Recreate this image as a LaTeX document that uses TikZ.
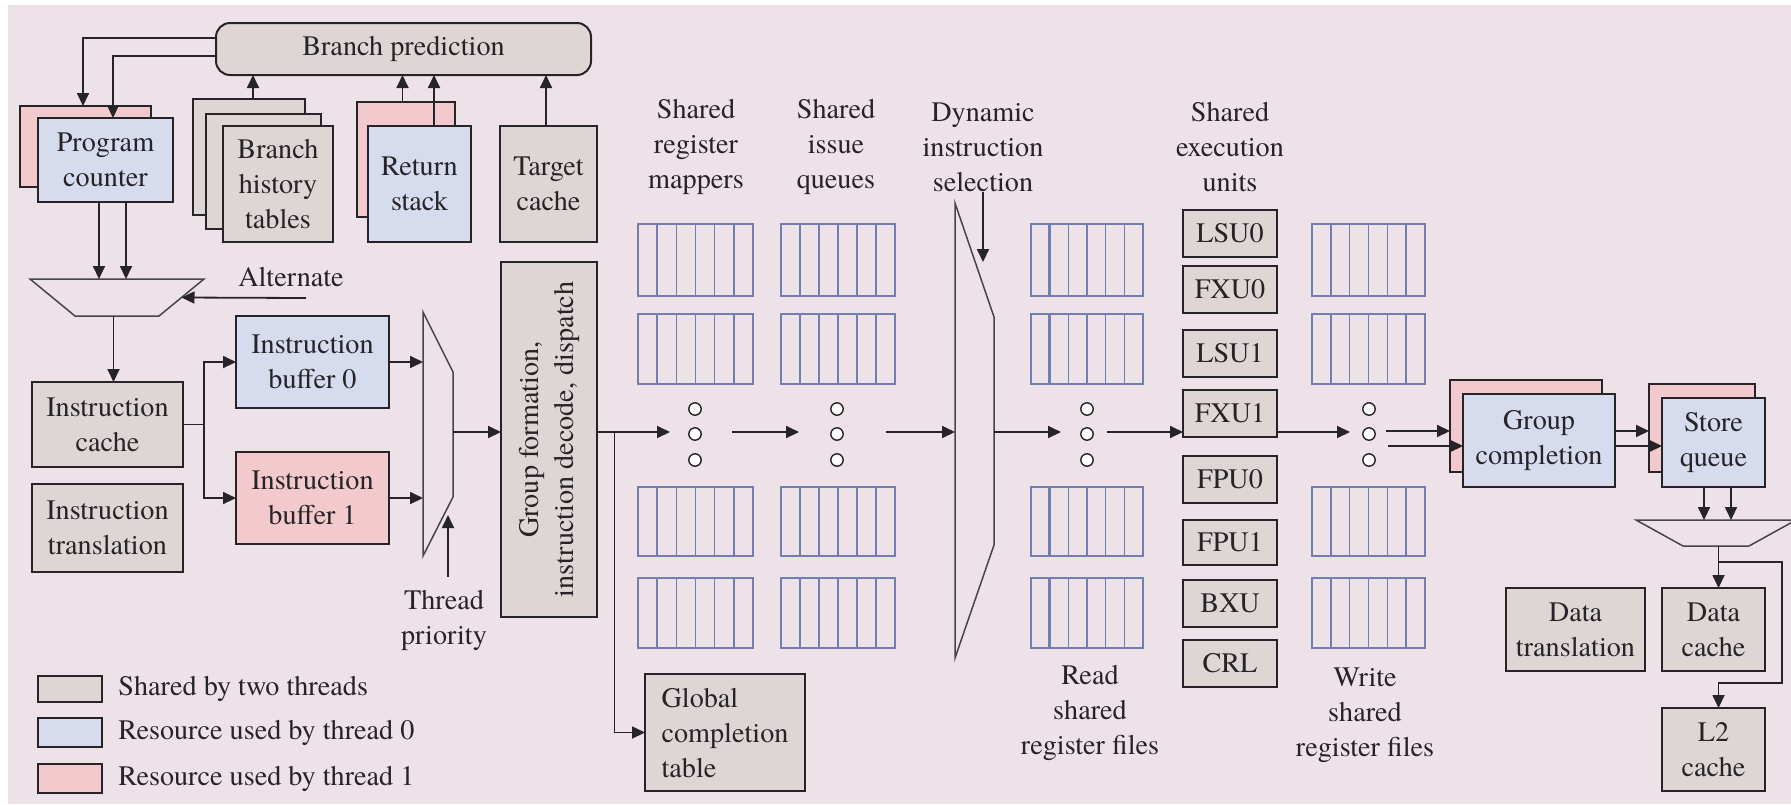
\documentclass[tikz,border=0pt]{standalone}
\usepackage{fontspec}
\setmainfont{TeX Gyre Termes}
\usetikzlibrary{arrows.meta,calc}

\definecolor{bgc}{RGB}{237,226,232}
\definecolor{shared}{RGB}{222,214,212}
\definecolor{thrA}{RGB}{215,219,238}
\definecolor{thrB}{RGB}{242,202,205}
\definecolor{gridc}{RGB}{112,126,178}
\definecolor{ink}{RGB}{38,36,40}

% box from corner (#3,#4) to corner (#5,#6), in pixel units
\newcommand\mkbox[7]{\node[#1,minimum width={(#5-#3)*0.5pt},minimum height={(#6-#4)*0.5pt}] (#2) at ({(#3+#5)/2},{(#4+#6)/2}) {#7};}
% register file drawn as six cells
\newcommand\regfile[4]{%
  \draw[regf] (#1,#2) rectangle (#3,#4);
  \foreach \k in {1,...,5} \draw[regf] ({#1+\k*(#3-#1)/6},#2) -- ({#1+\k*(#3-#1)/6},#4);}

\tikzset{
  box/.style={draw=ink, line width=1pt, inner sep=0pt, outer sep=0pt, align=center, text=ink},
  sh/.style={box, fill=shared},
  tz/.style={box, fill=thrA},
  to/.style={box, fill=thrB},
  arr/.style={draw=ink, line width=0.9pt, -{Triangle[length=6.5pt,width=6pt]}},
  wire/.style={draw=ink, line width=0.9pt},
  lbl/.style={align=center, text=ink, inner sep=0pt},
  muxs/.style={draw=ink!85, line width=0.75pt},
  regf/.style={draw=gridc, line width=0.75pt},
  dot/.style={draw=ink, fill=white, line width=0.7pt},
}

\begin{document}
\begin{tikzpicture}[x=0.5pt, y=-0.5pt, font=\fontsize{14.1}{17.5}\selectfont]
\useasboundingbox (0,0) rectangle (1791,804);
\fill[white] (0,0) rectangle (1791,804);
\fill[bgc] (8,5) rectangle (1791,804);

% ---------- fetch and branch prediction ----------
\mkbox{sh,rounded corners=7pt}{bp}{216}{23}{591}{75}{Branch prediction}
\mkbox{to}{pcb}{20}{106}{151}{187}{}
\mkbox{tz}{pcf}{38}{118}{173}{202}{Program\\counter}
\mkbox{sh}{bht3}{193}{99}{305}{215}{}
\mkbox{sh}{bht2}{206}{114}{321}{229}{}
\mkbox{sh}{bht1}{223}{126}{333}{242}{Branch\\history\\tables}
\mkbox{to}{rsb}{357}{102}{455}{217}{}
\mkbox{tz}{rsf}{368}{126}{471}{242}{Return\\stack}
\mkbox{sh}{tc}{500}{126}{597}{242}{Target\\cache}

\draw[arr] ([yshift=5.5pt]bp.west) -| ([xshift=-1.25pt]pcb.north);
\draw[arr] ([yshift=-3.5pt]bp.west) -| ([xshift=3.75pt]pcf.north);
\draw[arr] ([xshift=2pt]bht3.north) -- ([xshift=2pt]bht3.north |- bp.south);
\draw[arr] ([xshift=-1.75pt]rsb.north) -- ([xshift=-1.75pt]rsb.north |- bp.south);
\draw[arr] ([xshift=7.25pt]rsf.north) -- ([xshift=7.25pt]rsf.north |- bp.south);
\draw[arr] ([xshift=-1.25pt]tc.north) -- ([xshift=-1.25pt]tc.north |- bp.south);

% fetch selector
\coordinate (m1tl) at (30,279);
\coordinate (m1tr) at (204,279);
\coordinate (m1br) at (159,316);
\coordinate (m1bl) at (75,316);
\draw[muxs] (m1tl) -- (m1tr) -- (m1br) -- (m1bl) -- cycle;
\draw[arr] ([xshift=-3.25pt]pcf.south) -- ([xshift=-3.25pt]pcf.south |- m1tl);
\draw[arr] ([xshift=10.25pt]pcf.south) -- ([xshift=10.25pt]pcf.south |- m1tl);
\node[lbl] (alt) at (291,277) {Alternate};
\coordinate (altin) at (306,298);
\draw[arr] (altin) -- ($(m1tr)!0.5!(m1br)$);

\mkbox{sh}{ic}{32}{382}{183}{467}{Instruction\\cache}
\mkbox{sh}{it}{32}{484}{183}{572}{Instruction\\translation}
\draw[arr] ([xshift=3pt]ic.north |- m1bl) -- ([xshift=3pt]ic.north);

\mkbox{tz}{ib0}{236}{316}{389}{408}{Instruction\\buffer 0}
\mkbox{to}{ib1}{236}{452}{389}{544}{Instruction\\buffer 1}
\draw[arr] (ic.east) -- ++(21,0) |- (ib0.west);
\draw[arr] (ic.east) -- ++(21,0) |- (ib1.west);

% thread selector
\coordinate (tm1) at (423,312);
\coordinate (tm2) at (453,372);
\coordinate (tm3) at (453,497);
\coordinate (tm4) at (423,556);
\draw[muxs] (tm1) -- (tm2) -- (tm3) -- (tm4) -- cycle;
\draw[arr] (ib0.east) -- (ib0.east -| tm1);
\draw[arr] (ib1.east) -- (ib1.east -| tm1);
\node[lbl] (tp) at (444,620) {Thread\\priority};
\coordinate (tpbase) at (448,577);
\coordinate (tpin) at (448,515);
\draw[arr] (tpbase) -- (tpin);

% dispatch
\mkbox{sh}{gf}{501}{262}{597}{617}{}
\node[lbl, rotate=90] (gft) at (gf.center) {Group formation,\\instruction decode, dispatch};
\coordinate (tmout) at (453,432);
\draw[arr] (tmout) -- (tmout -| gf.west);

\mkbox{sh,align=left}{gct}{645}{674}{805}{791}{Global\\completion\\table}
\coordinate (d1in) at (670,432);
\draw[arr] ([yshift=3.75pt]gf.east) -- (d1in);
\draw[arr] ([yshift=3.75pt]gf.east) -- ++(17.5,0) |- (gct.west);

% ---------- shared register files and queues ----------
\foreach \xa/\xb in {638/753, 781/895, 1031/1143, 1312/1425}{
  \regfile{\xa}{224}{\xb}{296}
  \regfile{\xa}{314}{\xb}{384}
  \regfile{\xa}{487}{\xb}{556}
  \regfile{\xa}{578}{\xb}{648}
}
\foreach \ya/\yb in {224/296, 314/384, 487/556, 578/648}
  \draw[regf, line width=1.5pt] (1049.7,\ya) -- (1049.7,\yb);

\foreach \x in {695,837,1087,1369}
  \foreach \y in {409,434,460}
    \draw[dot] (\x,\y) circle[radius=3.1pt];

\node[lbl] (hmap) at (696,147) {Shared\\register\\mappers};
\node[lbl] (hiq) at (836,147) {Shared\\issue\\queues};
\node[lbl] (hdyn) at (983,147) {Dynamic\\instruction\\selection};
\node[lbl] (hexu) at (1230,147) {Shared\\execution\\units};
\node[lbl] (hrd) at (1090,713) {Read\\shared\\register files};
\node[lbl] (hwr) at (1365,715) {Write\\shared\\register files};

\coordinate (d1out) at (732,432);
\coordinate (d2in) at (799,432);
\coordinate (d2out) at (886,432);
\draw[arr] (d1out) -- (d2in);

% issue selector
\coordinate (dy1) at (955,203);
\coordinate (dy2) at (994,317);
\coordinate (dy3) at (994,545);
\coordinate (dy4) at (955,658);
\draw[muxs] (dy1) -- (dy2) -- (dy3) -- (dy4) -- cycle;
\draw[arr] (d2out) -- (d2out -| dy1);
\coordinate (dysel) at (983,262);
\draw[arr] (hdyn.south) -- (hdyn.south |- dysel);
\coordinate (dyout) at (994,432);
\coordinate (d3in) at (1061,432);
\coordinate (d3out) at (1107,432);
\draw[arr] (dyout) -- (d3in);

% ---------- execution units ----------
\foreach \n/\t/\a/\b in {lsu0/LSU0/210/257, fx0/FXU0/266/313, lsu1/LSU1/330/377, fx1/FXU1/390/437, fp0/FPU0/456/503, fp1/FPU1/520/565, bxu/BXU/580/627, crl/CRL/640/687}{
  \mkbox{sh}{\n}{1183}{\a}{1277}{\b}{\t}
}
\draw[arr] (d3out) -- (d3out -| fx1.west);
\coordinate (d4in) at (1350,432);
\draw[arr] (d3out -| fx1.east) -- (d4in);

% ---------- completion and store ----------
\mkbox{to}{gcb}{1450}{380}{1602}{472}{}
\mkbox{tz}{gcf}{1463}{394}{1615}{487}{Group\\completion}
\mkbox{to}{sqb}{1649}{384}{1755}{472}{}
\mkbox{tz}{sqf}{1662}{398}{1765}{487}{Store\\queue}
\coordinate (d4a) at (1386,431);
\coordinate (d4b) at (1388,446);
\draw[arr] (d4a) -- (d4a -| gcb.west);
\draw[arr] (d4b) -- (d4b -| gcf.west);
\draw[arr] (d4a -| gcf.east) -- (d4a -| sqb.west);
\draw[arr] (d4b -| gcf.east) -- (d4b -| sqf.west);

\coordinate (m2tl) at (1636,520);
\coordinate (m2tr) at (1796,520);
\coordinate (m2br) at (1749,546);
\coordinate (m2bl) at (1683,546);
\draw[muxs] (m2tl) -- (m2tr) -- (m2br) -- (m2bl) -- cycle;
\draw[arr] ([xshift=-4.75pt]sqf.south) -- ([xshift=-4.75pt]sqf.south |- m2tl);
\draw[arr] ([xshift=8.75pt]sqf.south) -- ([xshift=8.75pt]sqf.south |- m2tl);

\mkbox{sh}{dt}{1506}{588}{1645}{671}{Data\\translation}
\mkbox{sh}{dc}{1662}{588}{1765}{671}{Data\\cache}
\mkbox{sh}{l2}{1662}{708}{1765}{791}{L2\\cache}
\draw[arr] ([xshift=2.5pt]dc.north |- m2bl) -- ([xshift=2.5pt]dc.north);
\coordinate (m2split) at (1718.5,562);
\coordinate (l2bend) at (1782,683);
\draw[arr] (m2split) -| (l2bend) -| ([xshift=2.5pt]l2.north);

% ---------- legend ----------
\mkbox{sh}{lg0}{38}{676}{102}{702}{}
\mkbox{tz}{lg1}{38}{718}{102}{747}{}
\mkbox{to}{lg2}{38}{764}{102}{793}{}
\node[lbl, anchor=west] (lt0) at ([xshift=8pt]lg0.east) {Shared by two threads};
\node[lbl, anchor=west] (lt1) at ([xshift=8pt]lg1.east) {Resource used by thread 0};
\node[lbl, anchor=west] (lt2) at ([xshift=8pt]lg2.east) {Resource used by thread 1};
\end{tikzpicture}
\end{document}
